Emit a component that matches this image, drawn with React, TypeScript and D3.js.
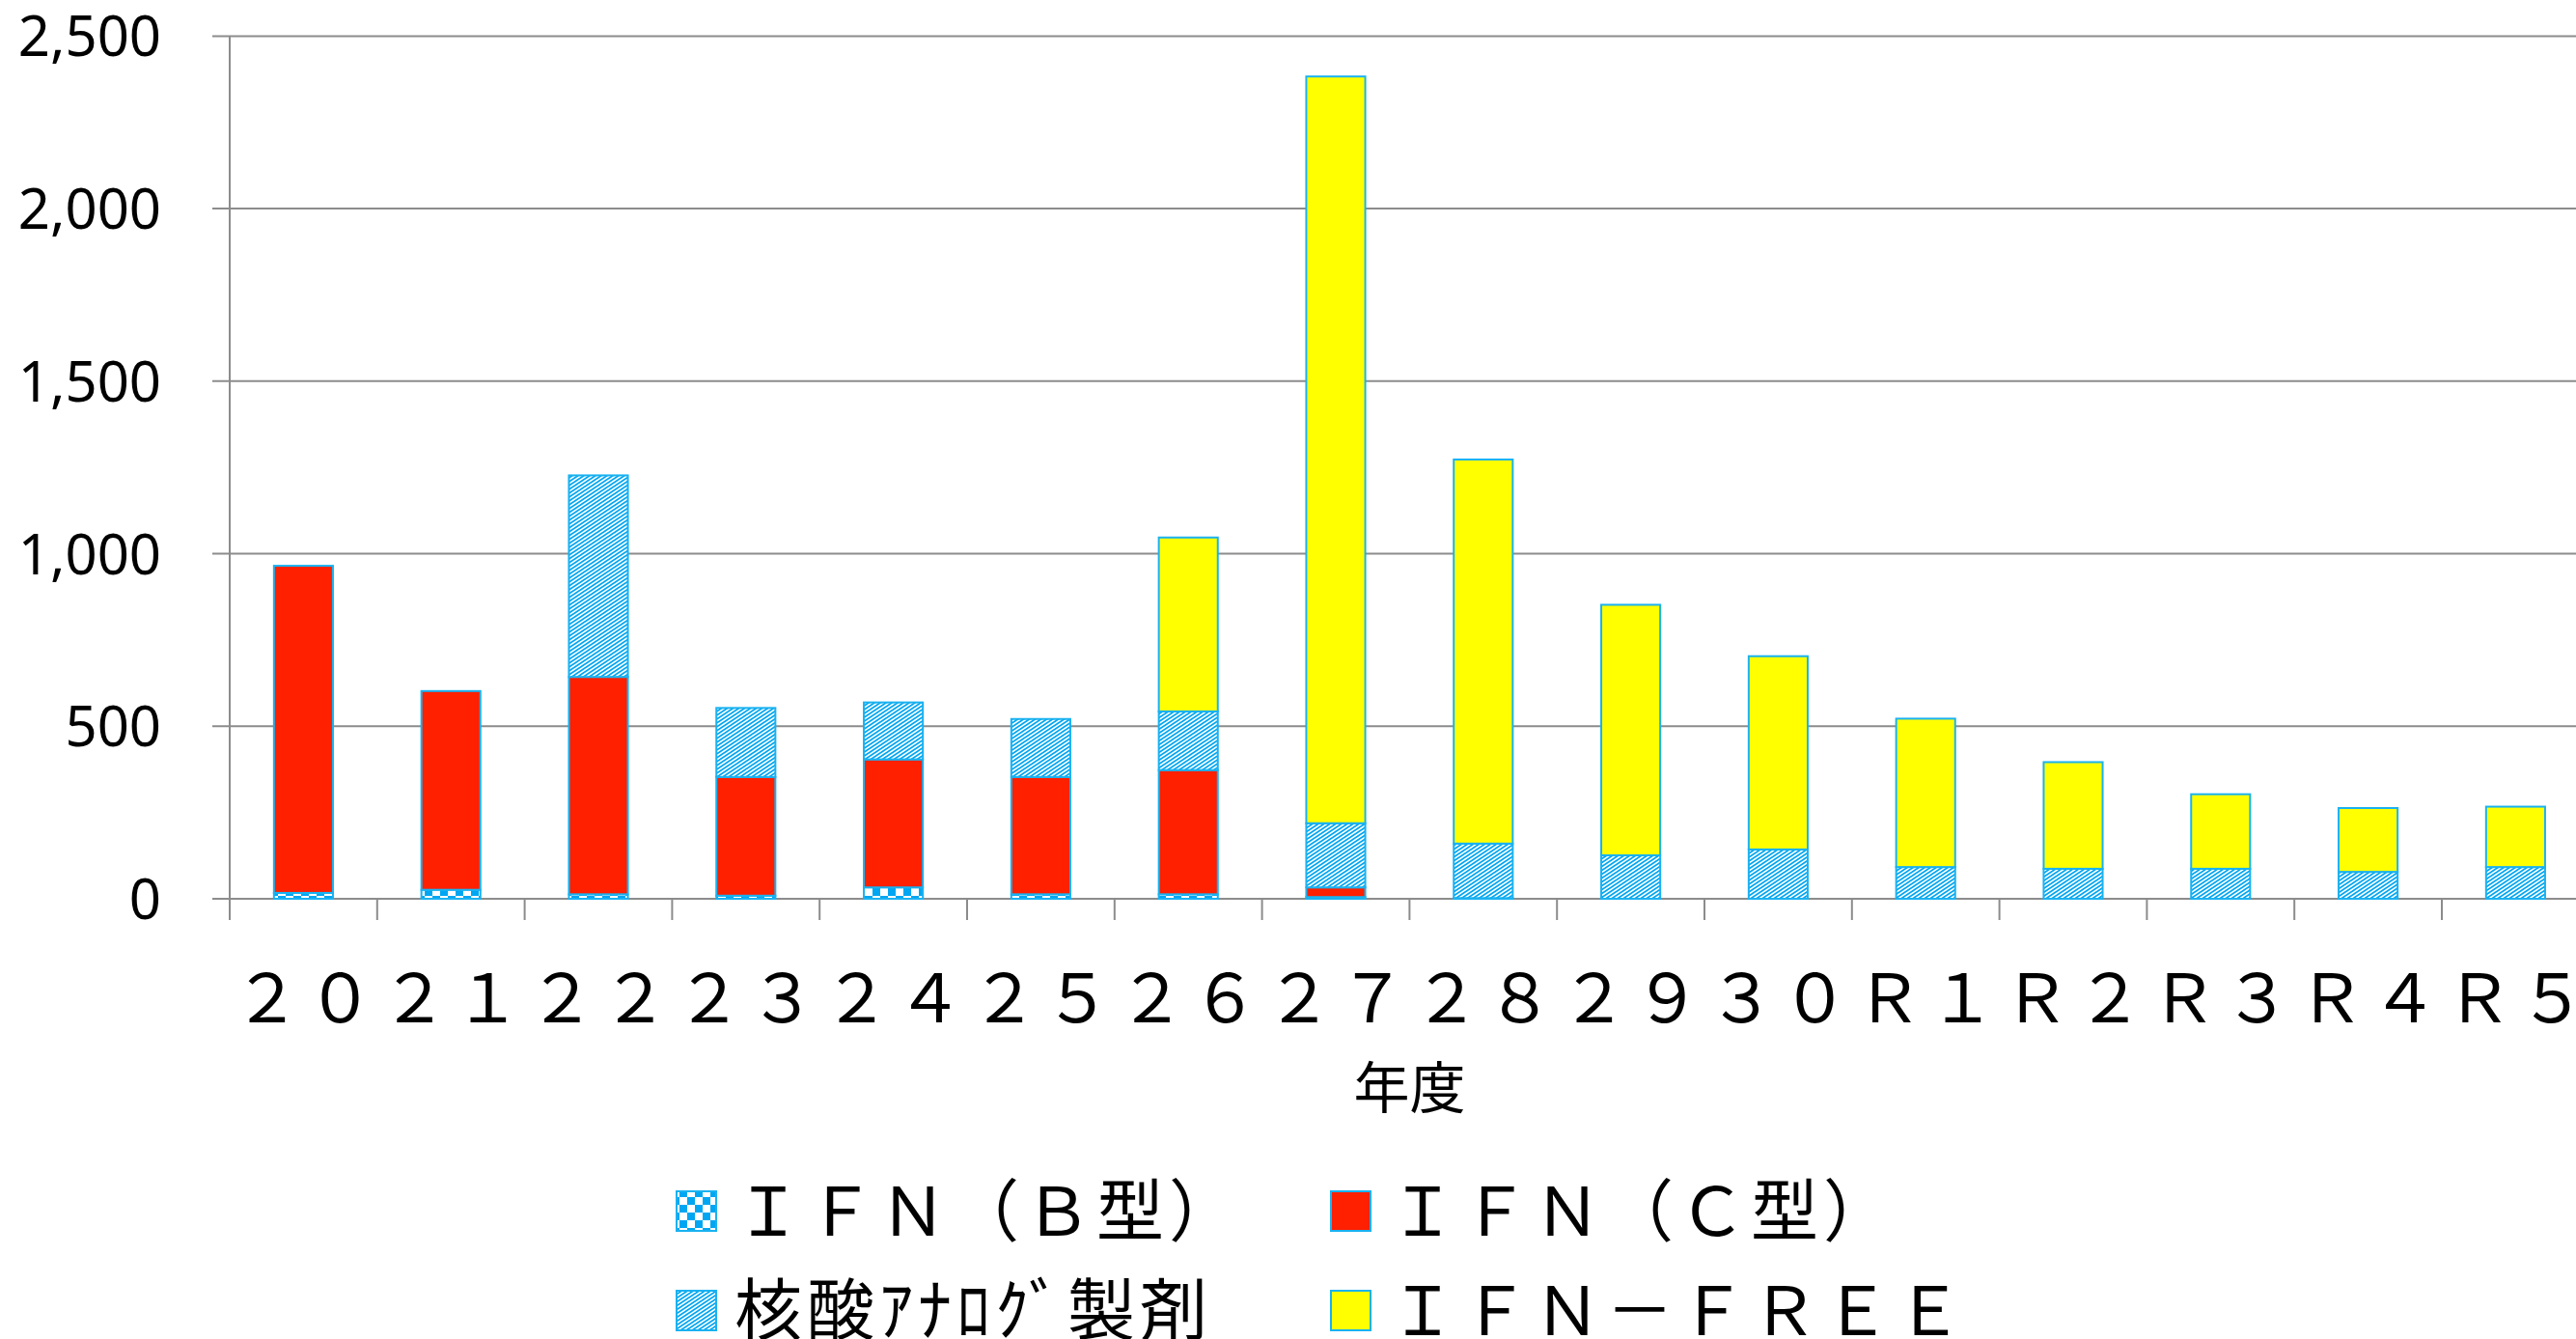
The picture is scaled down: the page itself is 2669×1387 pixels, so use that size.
import React from 'react'
import * as d3 from 'd3'

// 年度ごとの件数
const years = ['２０', '２１', '２２', '２３', '２４', '２５', '２６', '２７', '２８', '２９', '３０', 'Ｒ１', 'Ｒ２', 'Ｒ３', 'Ｒ４', 'Ｒ５']
const ifnB = [17, 26, 13, 9, 33, 13, 13, 5, 0, 0, 0, 0, 0, 0, 0, 0]
const ifnC = [948, 576, 630, 344, 371, 340, 360, 28, 2, 0, 0, 0, 0, 0, 0, 0]
const nucleoside = [0, 0, 584, 200, 165, 168, 170, 186, 158, 126, 143, 92, 87, 87, 78, 92]
const ifnFree = [0, 0, 0, 0, 0, 0, 504, 2164, 1113, 726, 560, 430, 309, 216, 185, 175]
const yTicks = [0, 500, 1000, 1500, 2000, 2500]

const seriesKeys = ['b', 'c', 'nuc', 'free']
const seriesNames = ['ＩＦＮ（Ｂ型）', 'ＩＦＮ（Ｃ型）', '核酸ｱﾅﾛｸﾞ製剤', 'ＩＦＮ－ＦＲＥＥ']
const seriesFills = ['url(#checker)', '#ff2000', 'url(#hatch)', '#ffff00']

const width = 2669
const height = 1387
const marginLeft = 238
const step = 152.8
const yBottom = 931
const yTop = 37.4
const outline = '#1ab2f0'
const patternBlue = '#00a6f2'
const gridColor = '#8c8c8c'
const cjk = '"Noto Sans CJK JP", sans-serif'

const App = () => {
	const rows = years.map((year, i) => ({
		year,
		b: ifnB[i],
		c: ifnC[i],
		nuc: nucleoside[i],
		free: ifnFree[i]
	}))

	const stacked = d3.stack().keys(seriesKeys)(rows)

	const xOuter = d3
		.scaleBand()
		.domain(years)
		.range([marginLeft, marginLeft + step * years.length])

	const x = d3
		.scaleBand()
		.domain(years)
		.range([marginLeft, marginLeft + step * years.length])
		.paddingInner(0.6)
		.paddingOuter(0.3)

	const y = d3.scaleLinear().domain([0, 2500]).range([yBottom, yTop])
	const fmt = d3.format(',')

	// 凡例の配置 (2列 x 2行)
	const legendCols = [701, 1379]
	const legendRows = [1234, 1337]

	return (
		<svg
			width={width}
			height={height}
			style={{ position: 'absolute', left: 0, top: 0, background: '#fff' }}
		>
			<defs>
				<pattern id="checker" width={16} height={16} patternUnits="userSpaceOnUse">
					<rect width={16} height={16} fill="#fff" />
					<rect x={0} y={0} width={8} height={8} fill={patternBlue} />
					<rect x={8} y={8} width={8} height={8} fill={patternBlue} />
				</pattern>
				<pattern id="hatch" width={6} height={4} patternUnits="userSpaceOnUse">
					<rect width={6} height={4} fill="#fff" />
					<path
						d="M0,4 L6,0 M-3,2 L3,-2 M3,6 L9,2"
						stroke={patternBlue}
						strokeWidth={1.8}
					/>
				</pattern>
			</defs>

			{/* 目盛線 */}
			{yTicks.map(t => (
				<g key={t}>
					<line
						x1={220}
						x2={width}
						y1={y(t)}
						y2={y(t)}
						stroke={gridColor}
						strokeWidth={2}
					/>
					<text
						x={167}
						y={y(t) + 21}
						textAnchor="end"
						fontFamily='"Noto Sans", sans-serif'
						fontSize={58}
						fill="#000"
					>
						{fmt(t)}
					</text>
				</g>
			))}

			{/* y軸 */}
			<line
				x1={marginLeft}
				x2={marginLeft}
				y1={yTop}
				y2={yBottom + 22}
				stroke={gridColor}
				strokeWidth={2}
			/>

			{/* x軸の区切り */}
			{years.map(yr => (
				<line
					key={yr}
					x1={xOuter(yr) + step}
					x2={xOuter(yr) + step}
					y1={yBottom}
					y2={yBottom + 22}
					stroke={gridColor}
					strokeWidth={2}
				/>
			))}

			{/* 積み上げ棒 */}
			{stacked.map((s, si) => (
				<g key={s.key}>
					{s.map((d, i) =>
						d[1] - d[0] > 0 ? (
							<rect
								key={i}
								x={x(years[i])}
								y={y(d[1])}
								width={x.bandwidth()}
								height={y(d[0]) - y(d[1])}
								fill={seriesFills[si]}
								stroke={outline}
								strokeWidth={2}
							/>
						) : null
					)}
				</g>
			))}

			{/* x軸ラベル */}
			{years.map(yr => (
				<text
					key={yr}
					x={xOuter(yr) + step / 2 + 3}
					y={1059}
					textAnchor="middle"
					fontFamily={cjk}
					fontSize={70}
					letterSpacing={6}
					fill="#000"
				>
					{yr}
				</text>
			))}

			<text
				x={marginLeft + (step * years.length) / 2}
				y={1148}
				textAnchor="middle"
				fontFamily={cjk}
				fontSize={58}
				fill="#000"
			>
				年度
			</text>

			{/* 凡例 */}
			{seriesNames.map((name, i) => {
				const lx = legendCols[i % 2]
				const ly = legendRows[Math.floor(i / 2)]
				return (
					<g key={name}>
						<rect
							x={lx}
							y={ly}
							width={41}
							height={41}
							fill={seriesFills[i]}
							stroke={outline}
							strokeWidth={2}
						/>
						<text
							x={lx + 60}
							y={ly + 46}
							fontFamily={cjk}
							fontSize={70}
							letterSpacing={5}
							fill="#000"
						>
							{name}
						</text>
					</g>
				)
			})}
		</svg>
	)
}

export default App
